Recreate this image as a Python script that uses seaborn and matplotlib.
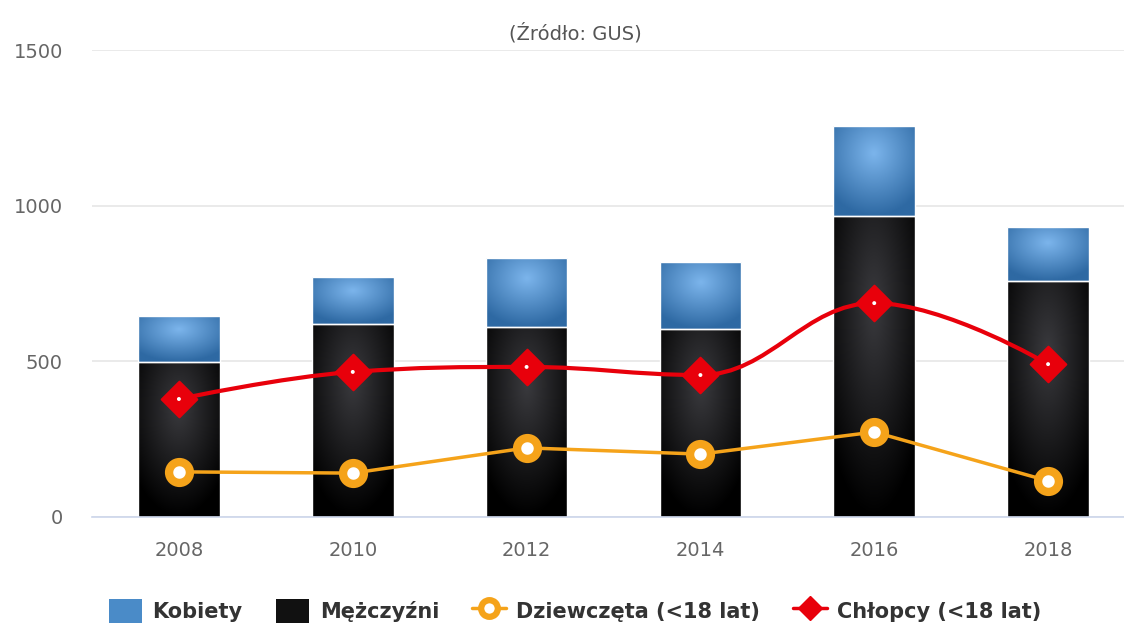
import numpy as np
import pandas as pd
import matplotlib
matplotlib.use("Agg")
import matplotlib.pyplot as plt
from matplotlib.path import Path
from matplotlib.patches import PathPatch, Patch
from matplotlib.lines import Line2D
from matplotlib.colors import LinearSegmentedColormap
import seaborn as sns

# dane
lata = ["2008", "2010", "2012", "2014", "2016", "2018"]
mezczyzni = [498, 620, 610, 604, 967, 758]
kobiety = [148, 151, 222, 215, 289, 174]
dziewczeta = [145, 141, 222, 202, 273, 116]
chlopcy = [379, 466, 482, 456, 687, 491]

df = pd.DataFrame({"rok": lata, "M": mezczyzni, "K": kobiety,
                   "D": dziewczeta, "C": chlopcy})

sns.set_theme(style="white")
plt.rcParams["font.family"] = ["DejaVu Sans"]

fig = plt.figure(figsize=(11.24, 6.28), dpi=100)
ax = fig.add_axes([92 / 1124, 111 / 628, 1043 / 1124, 467 / 628])

# slupki
sns.barplot(data=df, x="rok", y="M", color="#111111", width=0.47,
            edgecolor="white", linewidth=1, ax=ax, zorder=2)
sns.barplot(data=df, x="rok", y="K", bottom=df["M"], color="#4a8bc8",
            width=0.47, edgecolor="white", linewidth=1, ax=ax, zorder=2)

# gradient radialny na slupkach
cm_m = LinearSegmentedColormap.from_list("m", ["#3a3a3e", "#000000"])
cm_k = LinearSegmentedColormap.from_list("k", ["#7cb5ec", "#2e69a3"])
n = len(lata)
for i, p in enumerate(ax.patches):
    cmap = cm_m if i < n else cm_k
    x0, y0 = p.get_x(), p.get_y()
    w, h = p.get_width(), p.get_height()
    u, v = np.meshgrid(np.linspace(0, 1, 60), np.linspace(0, 1, 120))
    d = np.sqrt((u - 0.5) ** 2 + (v - 0.3) ** 2) / 0.7
    im = ax.imshow(np.clip(d, 0, 1), cmap=cmap, vmin=0, vmax=1,
                   extent=[x0, x0 + w, y0, y0 + h], origin="upper",
                   aspect="auto", zorder=2.1, interpolation="bilinear")
    im.set_clip_path(p)
    p.set_facecolor("none")
    p.set_zorder(2.2)

# dziewczeta - linia prosta
sns.lineplot(data=df, x="rok", y="D", color="#f5a31a", linewidth=2.5,
             marker="o", markersize=15, markerfacecolor="white",
             markeredgecolor="#f5a31a", markeredgewidth=6, ax=ax,
             zorder=4, sort=False)

# chlopcy - spline jak w highcharts
xs = np.arange(n, dtype=float)
ys = np.array(chlopcy, dtype=float)
sm, den = 1.5, 2.5
lc, rc = [], []
for i in range(n):
    if 0 < i < n - 1:
        lcx = (sm * xs[i] + xs[i - 1]) / den
        lcy = (sm * ys[i] + ys[i - 1]) / den
        rcx = (sm * xs[i] + xs[i + 1]) / den
        rcy = (sm * ys[i] + ys[i + 1]) / den
        corr = (rcy - lcy) * (rcx - xs[i]) / (rcx - lcx) + ys[i] - rcy
        lcy += corr
        rcy += corr
        if lcy > ys[i - 1] and lcy > ys[i]:
            lcy = max(ys[i - 1], ys[i]); rcy = 2 * ys[i] - lcy
        elif lcy < ys[i - 1] and lcy < ys[i]:
            lcy = min(ys[i - 1], ys[i]); rcy = 2 * ys[i] - lcy
        if rcy > ys[i + 1] and rcy > ys[i]:
            rcy = max(ys[i + 1], ys[i]); lcy = 2 * ys[i] - rcy
        elif rcy < ys[i + 1] and rcy < ys[i]:
            rcy = min(ys[i + 1], ys[i]); lcy = 2 * ys[i] - rcy
        lc.append((lcx, lcy)); rc.append((rcx, rcy))
    else:
        lc.append((xs[i], ys[i])); rc.append((xs[i], ys[i]))
verts = [(xs[0], ys[0])]
codes = [Path.MOVETO]
for i in range(1, n):
    verts += [rc[i - 1], lc[i], (xs[i], ys[i])]
    codes += [Path.CURVE4] * 3
ax.add_patch(PathPatch(Path(verts, codes), facecolor="none",
                       edgecolor="#e8000b", linewidth=3, zorder=4))
sns.scatterplot(data=df, x="rok", y="C", marker="D", s=330, color="#e8000b",
                edgecolor="#e8000b", ax=ax, zorder=5)
sns.scatterplot(data=df, x="rok", y="C", marker="o", s=8, color="white",
                edgecolor="none", ax=ax, zorder=6)

# osie
ax.set_xlim(-0.5, n - 0.5)
ax.set_ylim(0, 1500)
ax.set_yticks([0, 500, 1000, 1500])
ax.yaxis.grid(True, color="#e6e6e6", linewidth=1.2)
ax.set_axisbelow(True)
for s in ["top", "right", "left"]:
    ax.spines[s].set_visible(False)
ax.spines["bottom"].set_color("#ccd6eb")
ax.spines["bottom"].set_linewidth(1.2)
ax.spines["bottom"].set_zorder(3)
ax.set_xticks(np.arange(-0.5, n), minor=True)
ax.tick_params(axis="x", which="minor", length=10, color="#ccd6eb", width=1.2)
ax.tick_params(axis="x", which="major", length=0, pad=17, labelsize=14,
               labelcolor="#666666")
ax.tick_params(axis="y", length=0, pad=21, labelsize=14, labelcolor="#666666")
ax.set_xlabel("")
ax.set_ylabel("")

fig.text(575 / 1124, 1 - 33 / 628, "(Źródło: GUS)", ha="center", va="center",
         fontsize=14, color="#555555")

# legenda
handles = [
    Patch(facecolor="#4a8bc8", edgecolor="none"),
    Patch(facecolor="#111111", edgecolor="none"),
    Line2D([], [], color="#f5a31a", linewidth=2.5, marker="o", markersize=12,
           markerfacecolor="white", markeredgecolor="#f5a31a",
           markeredgewidth=4.5),
    Line2D([], [], color="#e8000b", linewidth=2.5, marker="D", markersize=12),
]
labels = ["Kobiety", "Mężczyźni", "Dziewczęta (<18 lat)", "Chłopcy (<18 lat)"]
fig.legend(handles, labels, loc="center", bbox_to_anchor=(575 / 1124, 1 - 611 / 628),
           ncol=4, frameon=False, handlelength=1.6, handleheight=1.4,
           columnspacing=1.6, handletextpad=0.5,
           prop={"weight": "bold", "size": 15})
for t in fig.legends[0].get_texts():
    t.set_color("#333333")

fig.savefig("out.png", dpi=100)
